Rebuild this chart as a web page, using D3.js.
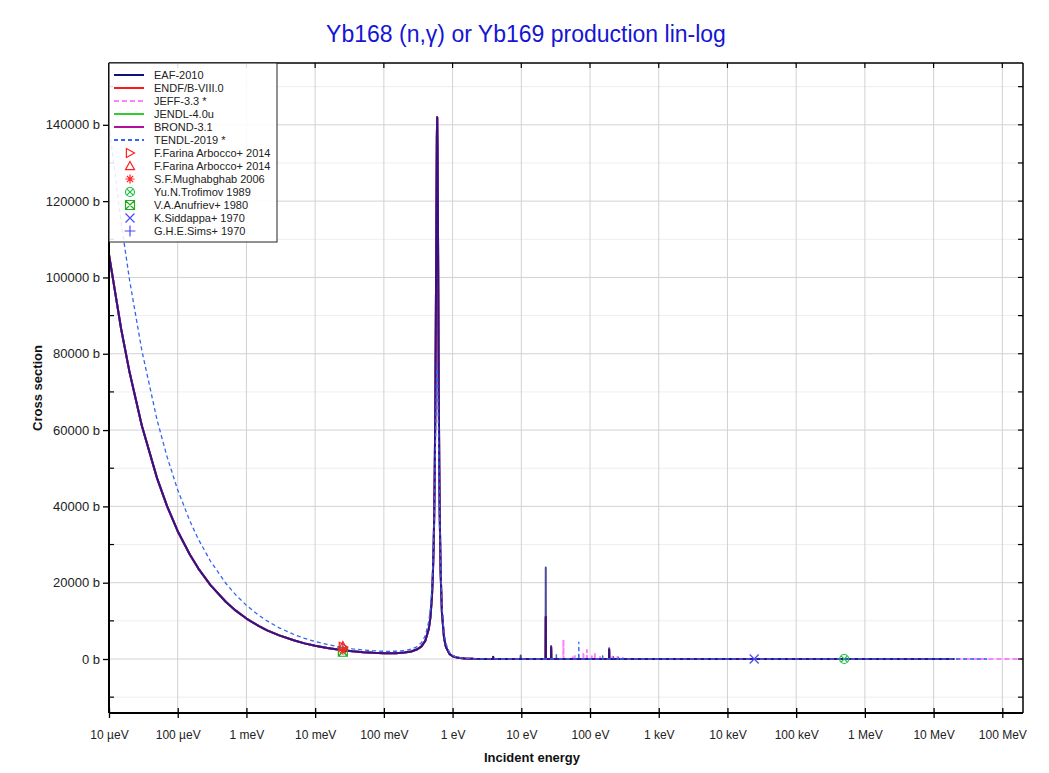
<!DOCTYPE html>
<html><head><meta charset="utf-8">
<script src="https://cdn.jsdelivr.net/npm/d3@7"></script>
<style>
body{margin:0;background:#fff}
svg{display:block}
text{font-family:"Liberation Sans", Arial, Helvetica, sans-serif}
</style>
</head><body>
<svg id="chart" width="1049" height="773"></svg>
<script>
// ---------------- data ----------------
const chartTitle = "Yb168 (n,\u03b3) or Yb169 production lin-log";
const xTickValues = [1e-5,1e-4,1e-3,1e-2,1e-1,1,10,100,1e3,1e4,1e5,1e6,1e7,1e8];
const xTickLabels = ["10 \u00b5eV","100 \u00b5eV","1 meV","10 meV","100 meV","1 eV","10 eV","100 eV","1 keV","10 keV","100 keV","1 MeV","10 MeV","100 MeV"];
const yTickValues = [0,20000,40000,60000,80000,100000,120000,140000];
const yMinorValues = [-10000,10000,30000,50000,70000,90000,110000,130000,150000];

// evaluated cross sections (eV, barn)
const energyMain = [1e-5,1.5e-5,2e-5,3e-5,5e-5,7e-5,1e-4,1.5e-4,2e-4,3e-4,5e-4,7e-4,1e-3,1.5e-3,2e-3,3e-3,5e-3,7e-3,0.01,0.015,0.0253,0.035,0.05,0.07,0.1,0.15,0.2,0.25,0.3,0.35,0.4,0.45,0.475,0.5,0.515,0.53,0.54,0.55,0.56,0.57,0.58,0.59,0.597,0.605,0.615,0.63,0.64,0.65,0.67,0.7,0.75,0.8,0.9,1,1.2,1.5,2,3,5,10,100,1e3,1e4,1e5,1e6,1e7,2e7];
const sigmaMain  = [106000,86550,75000,61200,47400,40060,33500,27370,23700,19350,15000,12670,10600,8660,7520,6190,4850,4100,3480,2870,2320,2017,1780,1621,1525,1537,1700,1968,2480,3255,4740,7850,10860,16100,21330,29400,37500,48900,64990,87100,113900,136700,142000,133200,107900,69100,50860,38000,22760,12200,5637,3160,1357,730,299,120,43,12,5,3,2,1.5,0.8,0.3,0.15,0.02,0.01];
const energyTendl = [1e-5,1.5e-5,2e-5,3e-5,5e-5,7e-5,1e-4,1.5e-4,2e-4,3e-4,5e-4,7e-4,1e-3,1.5e-3,2e-3,3e-3,5e-3,7e-3,0.01,0.015,0.0253,0.035,0.05,0.07,0.1,0.15,0.2,0.25,0.3,0.35,0.4,0.45,0.475,0.5,0.515,0.53,0.54,0.55,0.56,0.57,0.58,0.59,0.597,0.605,0.615,0.63,0.64,0.65,0.67,0.7,0.75,0.8,0.9,1,1.2,1.5,2,3,5,10,100,1e3,1e4,1e5,1e6,1e7,2e7,6e7];
const sigmaTendl  = [140000,114450,99100,80930,62700,52980,44300,36200,31350,25620,19850,16790,14060,11500,9980,8175,6380,5423,4580,3806,3040,2671,2360,2145,2020,2029,2220,2585,3200,4224,6070,9770,13150,18600,23590,30500,36550,43900,52590,61900,70500,76100,77000,74700,67700,53300,43970,36000,24290,14300,7045,4060,1776,960,396,160,57,16,6,3,2,1.5,0.8,0.3,0.15,0.02,0.01,0.005];
const energyJeffTail = [6e7,2e8];
const sigmaJeffTail  = [0.004,0.003];

// narrow resolved resonances (eV, peak barn)
const spikeEafE   = [3.9,9.8,22.7,27.2,190];
const spikeEafS   = [600,900,24000,3400,2800];
const spikeBrondE = [3.9,22.7,27.2,190];
const spikeBrondS = [500,11000,3000,2400];
const spikeJeffE  = [41,56,60,80,90,106,118,140,210,250,300];
const spikeJeffS  = [5000,870,1000,1300,2350,700,1300,500,600,500,300];
const spikeTendlE = [32.4,68.7,153,220,260];
const spikeTendlS = [1650,4450,1300,600,500];

// experimental points
const expNames  = ["F.Farina Arbocco+ 2014","F.Farina Arbocco+ 2014","S.F.Mughabghab 2006","Yu.N.Trofimov 1989","V.A.Anufriev+ 1980","K.Siddappa+ 1970","G.H.E.Sims+ 1970"];
const expEnergy = [0.0253,0.0253,0.0253,5.0e5,0.0253,2.45e4,0.0253];
const expSigma  = [3200,3400,2300,0.2,1900,1.0,3000];

// ---------------- styles ----------------
const seriesStyles = [
  {name:"EAF-2010",      color:"#10107a", dash:null,  w:2},
  {name:"ENDF/B-VIII.0", color:"#ff1a1a", dash:null,  w:2},
  {name:"JEFF-3.3 *",    color:"#ff80ff", dash:"5,3", w:2},
  {name:"JENDL-4.0u",    color:"#33cc33", dash:null,  w:2},
  {name:"BROND-3.1",     color:"#b0109a", dash:null,  w:2},
  {name:"TENDL-2019 *",  color:"#3366ee", dash:"4,3", w:1.3}
];
const expStyles = [
  {type:"triRight", color:"#ff2020"},
  {type:"triUp",    color:"#ff2020"},
  {type:"star",     color:"#ff2020"},
  {type:"circX",    color:"#22bb44"},
  {type:"sqX",      color:"#22aa22"},
  {type:"x",        color:"#4a4aff"},
  {type:"plus",     color:"#4a4aff"}
];

// ---------------- chart ----------------
const svg = d3.select("#chart");
const L=109, R=1023, T=63, B=713;
const x = d3.scaleLog().domain([1e-5,2e8]).range([L,R]);
const y = d3.scaleLinear().domain([-14150,156200]).range([B,T]);

svg.append("rect").attr("width",1049).attr("height",773).attr("fill","#fff");

// grid
const grid = svg.append("g");
grid.selectAll(".ymin").data(yMinorValues.filter(v=>v>y.domain()[0]&&v<y.domain()[1])).enter().append("line")
  .attr("x1",L).attr("x2",R).attr("y1",d=>y(d)).attr("y2",d=>y(d)).attr("stroke","#eeeeee").attr("stroke-width",1);
grid.selectAll(".ymaj").data(yTickValues).enter().append("line")
  .attr("x1",L).attr("x2",R).attr("y1",d=>y(d)).attr("y2",d=>y(d)).attr("stroke","#d2d2d2").attr("stroke-width",1);
grid.selectAll(".xmaj").data(xTickValues).enter().append("line")
  .attr("y1",T).attr("y2",B).attr("x1",d=>x(d)).attr("x2",d=>x(d)).attr("stroke","#d2d2d2").attr("stroke-width",1);

// clip
svg.append("clipPath").attr("id","clip").append("rect").attr("x",L).attr("y",T).attr("width",R-L).attr("height",B-T);
const plot = svg.append("g").attr("clip-path","url(#clip)");

function buildSeries(es, ss, spE, spS){
  const pts = es.map((e,i)=>[e, ss[i]]);
  const baseAt = d3.scaleLog().domain(es).range(ss).clamp(true);
  (spE||[]).forEach((e,i)=>{
    const b = baseAt(e);
    pts.push([e/1.006, b],[e, spS[i]],[e*1.006, b]);
  });
  pts.sort((a,b)=>a[0]-b[0]);
  return pts;
}
const line = d3.line().x(d=>x(d[0])).y(d=>y(d[1]));

const seriesData = {
  "ENDF/B-VIII.0": buildSeries(energyMain, sigmaMain, spikeBrondE, spikeBrondS),
  "JENDL-4.0u":    buildSeries(energyMain, sigmaMain, spikeBrondE, spikeBrondS),
  "JEFF-3.3 *":    buildSeries(energyMain.concat(energyJeffTail), sigmaMain.concat(sigmaJeffTail), spikeJeffE, spikeJeffS),
  "BROND-3.1":     buildSeries(energyMain, sigmaMain, spikeBrondE, spikeBrondS),
  "EAF-2010":      buildSeries(energyMain, sigmaMain, spikeEafE, spikeEafS),
  "TENDL-2019 *":  buildSeries(energyTendl, sigmaTendl, spikeTendlE, spikeTendlS)
};
const drawOrder = ["ENDF/B-VIII.0","JENDL-4.0u","JEFF-3.3 *","BROND-3.1","EAF-2010","TENDL-2019 *"];
drawOrder.forEach(n=>{
  const st = seriesStyles.find(s=>s.name===n);
  plot.append("path").datum(seriesData[n]).attr("d",line).attr("fill","none")
    .attr("stroke",st.color).attr("stroke-width",st.w)
    .attr("stroke-dasharray",st.dash).attr("stroke-linejoin","round")
    .attr("opacity", n==="EAF-2010"?0.75:1);
});

// symbols
function symbol(g, type, color, cx, cy){
  const s=4.5;
  const p = g.append("path").attr("fill","none").attr("stroke",color).attr("stroke-width",1.2);
  let d="";
  if(type==="triRight") d=`M${cx-s*0.8},${cy-s}L${cx+s},${cy}L${cx-s*0.8},${cy+s}Z`;
  else if(type==="triUp") d=`M${cx},${cy-s}L${cx+s},${cy+s*0.8}L${cx-s},${cy+s*0.8}Z`;
  else if(type==="star") d=`M${cx-s},${cy}L${cx+s},${cy}M${cx},${cy-s}L${cx},${cy+s}M${cx-s*0.7},${cy-s*0.7}L${cx+s*0.7},${cy+s*0.7}M${cx-s*0.7},${cy+s*0.7}L${cx+s*0.7},${cy-s*0.7}`;
  else if(type==="circX"){ const r=s*0.7; d=`M${cx-r},${cy-r}L${cx+r},${cy+r}M${cx-r},${cy+r}L${cx+r},${cy-r}`;
    g.append("circle").attr("cx",cx).attr("cy",cy).attr("r",s).attr("fill","none").attr("stroke",color).attr("stroke-width",1.2); }
  else if(type==="sqX") d=`M${cx-s},${cy-s}H${cx+s}V${cy+s}H${cx-s}ZM${cx-s},${cy-s}L${cx+s},${cy+s}M${cx-s},${cy+s}L${cx+s},${cy-s}`;
  else if(type==="x") d=`M${cx-s},${cy-s}L${cx+s},${cy+s}M${cx-s},${cy+s}L${cx+s},${cy-s}`;
  else if(type==="plus") d=`M${cx-s*1.2},${cy}L${cx+s*1.2},${cy}M${cx},${cy-s*1.2}L${cx},${cy+s*1.2}`;
  p.attr("d",d);
}
const expG = svg.append("g");
for(let i=expNames.length-1;i>=0;i--){
  symbol(expG, expStyles[i].type, expStyles[i].color, x(expEnergy[i]), y(expSigma[i]));
}

// axes
const xAxis = svg.append("g").attr("transform",`translate(0,${B})`)
  .call(d3.axisBottom(x).tickValues(xTickValues).tickFormat((d,i)=>xTickLabels[i]).tickSize(5).tickPadding(12));
xAxis.select(".domain").remove();
xAxis.selectAll(".tick line").attr("y1",-5).attr("y2",5).attr("stroke","#000").attr("stroke-width",1.3);
xAxis.selectAll(".tick text").attr("font-size",12).attr("fill","#222").attr("font-family","'Liberation Sans', Arial, sans-serif");

const yAxis = svg.append("g").attr("transform",`translate(${L},0)`)
  .call(d3.axisLeft(y).tickValues(yTickValues).tickFormat(d=>d+" b").tickSize(6).tickPadding(3));
yAxis.select(".domain").remove();
yAxis.selectAll(".tick line").attr("stroke","#000").attr("stroke-width",1.3);
yAxis.selectAll(".tick text").attr("font-size",13).attr("fill","#222").attr("font-family","'Liberation Sans', Arial, sans-serif");

// minor inward ticks, mirrored ticks
const tk = svg.append("g").attr("stroke","#000").attr("stroke-width",1.2);
tk.selectAll(".lm").data(yMinorValues).enter().append("line").attr("x1",L).attr("x2",L+5).attr("y1",d=>y(d)).attr("y2",d=>y(d));
tk.selectAll(".rm").data(yMinorValues.concat(yTickValues)).enter().append("line").attr("x1",R).attr("x2",R-5).attr("y1",d=>y(d)).attr("y2",d=>y(d));
tk.selectAll(".tm").data(xTickValues).enter().append("line").attr("y1",T).attr("y2",T+5).attr("x1",d=>x(d)).attr("x2",d=>x(d));

// frame
svg.append("line").attr("x1",L).attr("x2",R).attr("y1",B).attr("y2",B).attr("stroke","#000").attr("stroke-width",2);
svg.append("line").attr("x1",L).attr("x2",L).attr("y1",T).attr("y2",B).attr("stroke","#000").attr("stroke-width",2);
svg.append("line").attr("x1",L).attr("x2",R).attr("y1",T).attr("y2",T).attr("stroke","#000").attr("stroke-width",1.5);
svg.append("line").attr("x1",R).attr("x2",R).attr("y1",T).attr("y2",B).attr("stroke","#000").attr("stroke-width",1.5);

// titles
svg.append("text").attr("x",526).attr("y",42).attr("text-anchor","middle").attr("font-size",23).attr("fill","#1515d6").text(chartTitle);
svg.append("text").attr("x",532).attr("y",762).attr("text-anchor","middle").attr("font-size",13).attr("font-weight","bold").attr("fill","#111").text("Incident energy");
svg.append("text").attr("transform","translate(42,388) rotate(-90)").attr("text-anchor","middle").attr("font-size",13).attr("font-weight","bold").attr("fill","#111").text("Cross section");

// legend
const lg = svg.append("g");
lg.append("rect").attr("x",L).attr("y",T).attr("width",168).attr("height",179)
  .attr("fill","rgba(255,255,255,0.88)").attr("stroke","#222").attr("stroke-width",1);
const rowY = i => 75 + i*13;
seriesStyles.forEach((s,i)=>{
  lg.append("line").attr("x1",114).attr("x2",144).attr("y1",rowY(i)).attr("y2",rowY(i))
    .attr("stroke",s.color).attr("stroke-width",2).attr("stroke-dasharray",s.dash);
  lg.append("text").attr("x",154).attr("y",rowY(i)+4).attr("font-size",11).attr("fill","#222").text(s.name);
});
expNames.forEach((n,i)=>{
  const r = rowY(i+seriesStyles.length);
  symbol(lg, expStyles[i].type, expStyles[i].color, 130, r);
  lg.append("text").attr("x",154).attr("y",r+4).attr("font-size",11).attr("fill","#222").text(n);
});
</script>
</body></html>
